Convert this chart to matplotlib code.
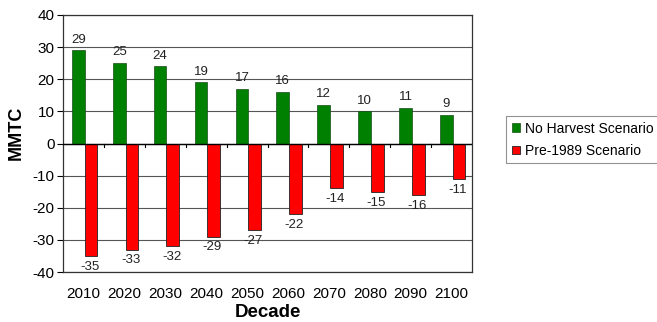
import matplotlib
matplotlib.use("Agg")
import matplotlib.pyplot as plt
import numpy as np

plt.rcParams['font.family'] = ['Liberation Sans', 'DejaVu Sans']

decades = ["2010", "2020", "2030", "2040", "2050", "2060", "2070", "2080", "2090", "2100"]
no_harvest = [29, 25, 24, 19, 17, 16, 12, 10, 11, 9]
pre_1989 = [-35, -33, -32, -29, -27, -22, -14, -15, -16, -11]
yticks = [-40, -30, -20, -10, 0, 10, 20, 30, 40]

fig = plt.figure(figsize=(6.57, 3.22), dpi=100)
ax = fig.add_axes([63/657, 1 - 272/322, (472-63)/657, (272-15)/322])

x = np.arange(len(decades))
w = 0.31
b1 = ax.bar(x - w/2 + 0.03, no_harvest, w, color="#008000", edgecolor="#1a4d1a", linewidth=0.5,
            label="No Harvest Scenario", zorder=3)
b2 = ax.bar(x + w/2 + 0.03, pre_1989, w, color="#ff0000", edgecolor="#222222", linewidth=0.6,
            label="Pre-1989 Scenario", zorder=3)

for xi, v in zip(x, no_harvest):
    ax.text(xi - w/2 + 0.03, v + 1.5, str(v), ha="center", va="bottom", fontsize=9.5, color="#222222")
for xi, v in zip(x, pre_1989):
    ax.text(xi + w/2 + 0.0, v - 1.5, str(v), ha="center", va="top", fontsize=9.5, color="#222222")

ax.set_xlim(-0.5, len(decades) - 0.5)
ax.set_ylim(-40, 40)
ax.set_yticks(yticks)
ax.set_yticklabels([str(t) for t in yticks], fontsize=11)
ax.yaxis.grid(True, color="#555555", linewidth=0.8, zorder=0)
ax.set_axisbelow(True)
ax.axhline(0, color="black", linewidth=1.0, zorder=4)

ax.set_xticks(x)
ax.set_xticklabels(decades, fontsize=11)
ax.tick_params(axis="x", length=0, pad=11)
ax.tick_params(axis="y", length=4, width=0.8, pad=2)
# small ticks on the zero line at category boundaries
for b in np.arange(0.5, len(decades) - 0.5, 1.0):
    ax.plot([b, b], [0, -1.2], color="black", linewidth=0.8, zorder=4, clip_on=False)

for s in ax.spines.values():
    s.set_color("#333333")
    s.set_linewidth(0.9)

ax.set_ylabel("MMTC", fontsize=13, fontweight="bold")
ax.yaxis.set_label_coords(-0.093, 0.54)
ax.set_xlabel("Decade", fontsize=13.5, fontweight="bold", labelpad=2)

leg = fig.legend(handles=[b1, b2], loc="upper left", bbox_to_anchor=(506/657, 1 - 116/322),
                 fontsize=10, frameon=True, fancybox=False, edgecolor="#777777",
                 handlelength=0.6, handleheight=0.6, handletextpad=0.4, borderpad=0.4,
                 labelspacing=0.6, borderaxespad=0)
leg.get_frame().set_linewidth(0.8)

fig.savefig("out.png", dpi=100)
